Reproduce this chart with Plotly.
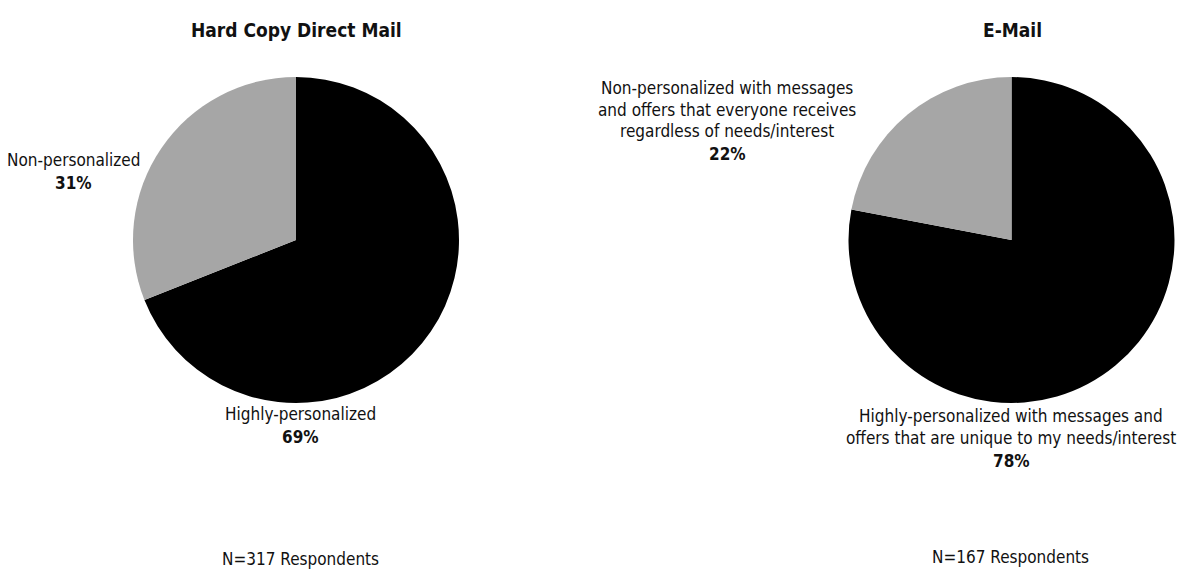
import plotly.graph_objects as go

labels_left = ["Highly-personalized", "Non-personalized"]
values_left = [69, 31]
labels_right = ["Highly-personalized with messages and offers that are unique to my needs/interest",
                "Non-personalized with messages and offers that everyone receives regardless of needs/interest"]
values_right = [78, 22]
titles = ["Hard Copy Direct Mail", "E-Mail"]
notes = ["N=317 Respondents", "N=167 Respondents"]
colors = ["#000000", "#a6a6a6"]

W, H = 1202, 571
FONT = "Liberation Sans Narrow, DejaVu Sans Condensed, Arial Narrow, sans-serif"

def px(x):
    return x / W

def py(y):
    return 1 - y / H

fig = go.Figure()
fig.add_trace(go.Pie(labels=labels_left, values=values_left, sort=False, direction="clockwise",
                     rotation=0, marker=dict(colors=colors, line=dict(width=0)),
                     textinfo="none", hoverinfo="label+percent",
                     domain=dict(x=[px(133), px(459)], y=[py(403), py(77)])))
fig.add_trace(go.Pie(labels=labels_right, values=values_right, sort=False, direction="clockwise",
                     rotation=0, marker=dict(colors=colors, line=dict(width=0)),
                     textinfo="none", hoverinfo="label+percent",
                     domain=dict(x=[px(848), px(1175)], y=[py(403), py(77)])))

ann = []
def add(x, y, text, size=17, bold=False):
    ann.append(dict(x=px(x), y=py(y), xref="paper", yref="paper", text=(f"<b>{text}</b>" if bold else text),
                    showarrow=False, xanchor="center", yanchor="middle",
                    font=dict(family=FONT, size=size, color="#111111")))

add(296, 30, titles[0], size=19, bold=True)
add(1012, 30, titles[1], size=19, bold=True)

add(73, 160, "Non-personalized")
add(73, 183, f"{values_left[1]}%", bold=True)
add(300, 414, "Highly-personalized")
add(300, 437, f"{values_left[0]}%", bold=True)
add(300, 559, notes[0])

add(727, 88, "Non-personalized with messages")
add(727, 110, "and offers that everyone receives")
add(727, 131, "regardless of needs/interest")
add(727, 154, f"{values_right[1]}%", bold=True)
add(1011, 416, "Highly-personalized with messages and")
add(1011, 438, "offers that are unique to my needs/interest")
add(1011, 461, f"{values_right[0]}%", bold=True)
add(1010, 557, notes[1])

fig.update_layout(width=W, height=H, margin=dict(l=0, r=0, t=0, b=0),
                  paper_bgcolor="white", plot_bgcolor="white", showlegend=False,
                  annotations=ann)
fig.write_html("out.html")
